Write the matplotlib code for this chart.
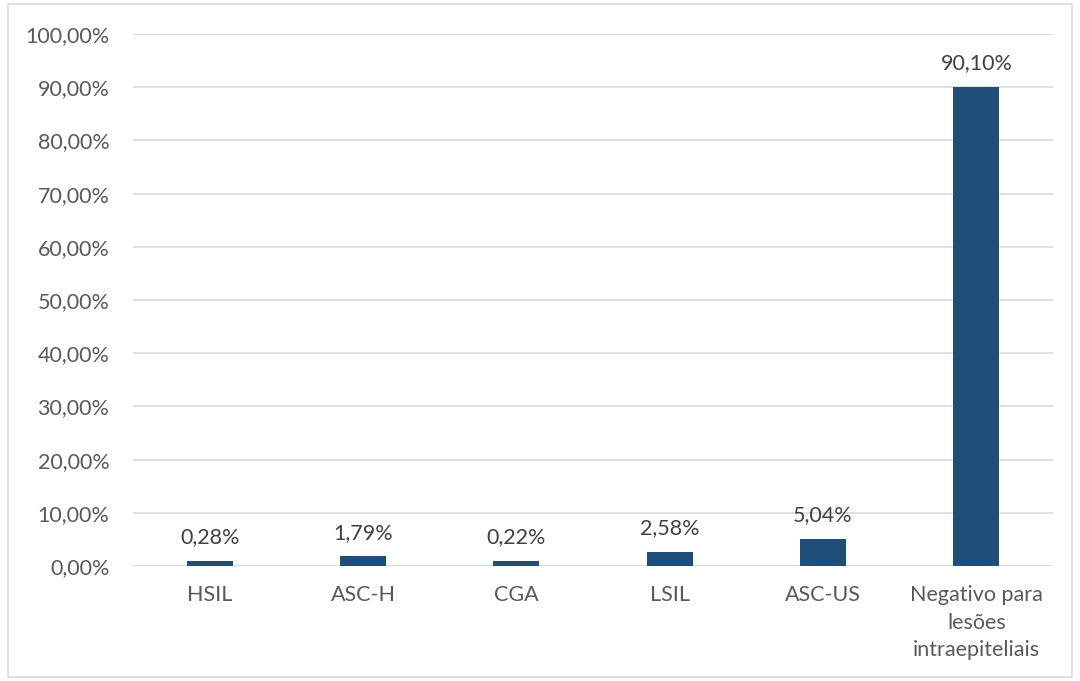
import matplotlib
matplotlib.use("Agg")
import matplotlib.pyplot as plt
from matplotlib.patches import Rectangle

categories = ["HSIL", "ASC-H", "CGA", "LSIL", "ASC-US", "Negativo para\nlesões\nintraepiteliais"]
bar_heights = [1.0, 1.79, 0.95, 2.58, 5.04, 90.10]
value_labels = ["0,28%", "1,79%", "0,22%", "2,58%", "5,04%", "90,10%"]
yticks = list(range(0, 101, 10))
ytick_labels = [f"{v},00%" for v in yticks]

plt.rcParams['font.family'] = ['Lato', 'DejaVu Sans']
fig = plt.figure(figsize=(10.8, 6.81), dpi=100)
ax = fig.add_axes([133/1080, 1-566/681, (1053-133)/1080, (566-34)/681])

x = list(range(len(categories)))
ax.bar(x, bar_heights, width=0.3, color="#1F4E79", zorder=3)
for xi, h, lab in zip(x, bar_heights, value_labels):
    ax.text(xi, h + 2.6, lab, ha="center", va="bottom", fontsize=15.5, color="#404040")

ax.set_ylim(0, 100)
ax.set_xlim(-0.5, len(categories) - 0.5)
ax.set_yticks(yticks)
ax.set_yticklabels(ytick_labels, fontsize=15.5, color="#595959")
ax.set_xticks(x)
ax.set_xticklabels(categories, fontsize=15.5, color="#595959", linespacing=1.45, va="top")
ax.tick_params(axis="y", length=0, pad=17)
ax.tick_params(axis="x", length=0, pad=14)
ax.yaxis.grid(True, color="#D9D9D9", linewidth=1.2, zorder=0)
for s in ax.spines.values():
    s.set_visible(False)
ax.axhline(0, color="#D9D9D9", linewidth=1.2, zorder=2)

fig.patches.append(Rectangle((8/1080, 4/681), 1064/1080, 673/681, transform=fig.transFigure,
                             fill=False, edgecolor="#D9D9D9", linewidth=1.2))
fig.savefig("out.png", dpi=100)
